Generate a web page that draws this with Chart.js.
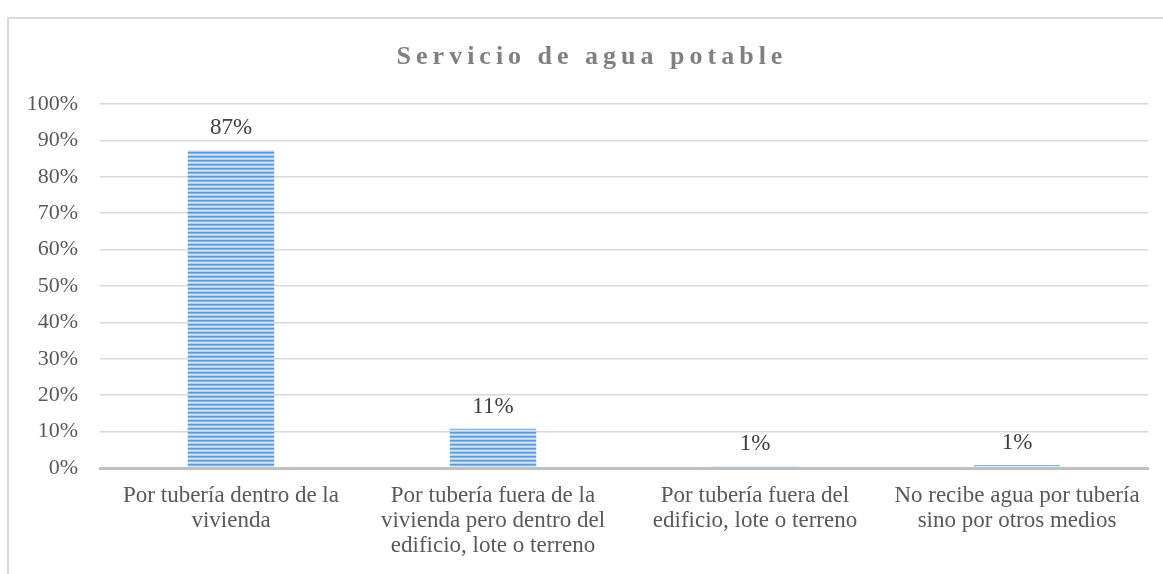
<!DOCTYPE html>
<html>
<head>
<meta charset="utf-8">
<script src="https://cdn.jsdelivr.net/npm/chart.js@4/dist/chart.umd.min.js"></script>
<style>
html,body{margin:0;padding:0;background:#fff;}
#wrap{width:1163px;height:574px;position:relative;}
</style>
</head>
<body>
<div id="wrap"><canvas id="c" width="1163" height="574"></canvas></div>
<script>
const chartTitle = 'Servicio de agua potable';
const categories = [
  ['Por tubería dentro de la', 'vivienda'],
  ['Por tubería fuera de la', 'vivienda pero dentro del', 'edificio, lote o terreno'],
  ['Por tubería fuera del', 'edificio, lote o terreno'],
  ['No recibe agua por tubería', 'sino por otros medios']
];
const values = [87.3, 10.8, 0.5, 0.8];
const yTicks = [0, 10, 20, 30, 40, 50, 60, 70, 80, 90, 100];

const FONT = '"Liberation Serif", "Times New Roman", serif';

function makePattern() {
  const p = document.createElement('canvas');
  p.width = 4; p.height = 4;
  const g = p.getContext('2d');
  const rows = ['#5b9bd5', '#8ab8e4', '#d3e5f6', '#b3d0ee'];
  rows.forEach((c, i) => { g.fillStyle = c; g.fillRect(0, i, 4, 1); });
  return document.getElementById('c').getContext('2d').createPattern(p, 'repeat');
}

const framePlugin = {
  id: 'frame',
  beforeDraw(chart) {
    const ctx = chart.ctx;
    ctx.save();
    ctx.fillStyle = '#ffffff';
    ctx.fillRect(0, 0, chart.width, chart.height);
    ctx.strokeStyle = '#d9d9d9';
    ctx.lineWidth = 2;
    ctx.strokeRect(8, 18, 1200, 700);
    ctx.restore();
  },
  afterDraw(chart) {
    const ctx = chart.ctx;
    ctx.save();
    ctx.font = 'bold 26px ' + FONT;
    ctx.fillStyle = '#808080';
    ctx.textAlign = 'center';
    ctx.textBaseline = 'middle';
    try { ctx.letterSpacing = '5px'; } catch (e) {}
    ctx.fillText(chartTitle, 592, 57);
    ctx.restore();
  }
};

const labelPlugin = {
  id: 'vlabels',
  afterDatasetsDraw(chart) {
    const ctx = chart.ctx;
    const meta = chart.getDatasetMeta(0);
    ctx.save();
    ctx.font = '23px ' + FONT;
    ctx.fillStyle = '#404040';
    ctx.textAlign = 'center';
    ctx.textBaseline = 'middle';
    meta.data.forEach((bar, i) => {
      ctx.fillText(Math.round(values[i]) + '%', bar.x, bar.y - 22);
    });
    ctx.restore();
  }
};

new Chart(document.getElementById('c'), {
  type: 'bar',
  data: {
    labels: categories,
    datasets: [{
      data: values,
      backgroundColor: makePattern(),
      borderWidth: 0,
      categoryPercentage: 1,
      barPercentage: 0.33
    }]
  },
  options: {
    responsive: false,
    animation: false,
    devicePixelRatio: 1,
    layout: { padding: { left: 0, right: 15, top: 104, bottom: 0 } },
    plugins: { legend: { display: false }, title: { display: false }, tooltip: { enabled: false } },
    scales: {
      x: {
        grid: { display: false, drawTicks: false },
        border: { display: true, color: '#bfbfbf', width: 3 },
        ticks: { padding: 16, color: '#595959', font: { family: FONT, size: 23, lineHeight: 1.07 }, maxRotation: 0, autoSkip: false },
        afterFit(scale) { scale.height = 106; }
      },
      y: {
        min: 0, max: 100,
        afterBuildTicks(scale) { scale.ticks = yTicks.map(v => ({ value: v })); },
        grid: { color: '#d9d9d9', lineWidth: 1.5, drawTicks: false },
        border: { display: false },
        ticks: { padding: 22, color: '#595959', font: { family: FONT, size: 22 }, callback: v => v + '%' },
        afterFit(scale) { scale.width = 100; }
      }
    }
  },
  plugins: [framePlugin, labelPlugin]
});
</script>
</body>
</html>
